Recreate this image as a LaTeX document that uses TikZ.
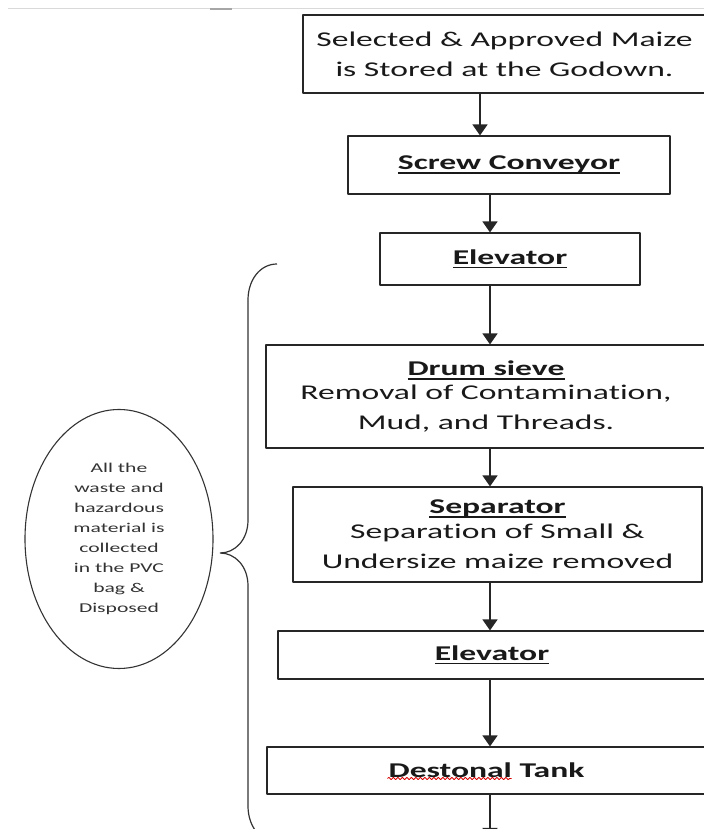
\documentclass[tikz,border=0pt]{standalone}
\usepackage{fontspec}
\setmainfont{Carlito}[FakeStretch=1.6,Ligatures={NoCommon}]
\usetikzlibrary{arrows.meta,shapes,decorations.pathmorphing}

\newcommand\boxfont{\fontsize{21bp}{30bp}\selectfont}
\newcommand\notefont{\fontsize{13.5bp}{20bp}\selectfont}
\newcommand\ulhead[1]{\setbox0=\hbox{\textbf{#1}}\rlap{\rule[-4bp]{\wd0}{1.5bp}}\box0}

\begin{document}
\begin{tikzpicture}[>={Triangle[width=15bp,length=11bp]},line join=bevel,
  box/.style={draw=black!85,line width=1.1bp,rectangle,inner sep=0pt,align=center,font=\boxfont,text=black!90},
  flow/.style={->,draw=black!85,line width=1.3bp},
  note/.style={draw=black!80,line width=1.1bp,ellipse,inner sep=0pt,align=center,font=\notefont,text=black!80},
  spell/.style={draw=red!85!black,line width=0.8bp,decorate,decoration={snake,amplitude=1.2bp,segment length=4.5bp}}]
\useasboundingbox (0bp,0bp) rectangle (704bp,829bp);
\clip (0bp,0bp) rectangle (704bp,829bp);
%%
\draw [gray!30,line width=1bp] (8bp,820bp) -- (704bp,820bp);
\draw [gray!70,line width=1.5bp] (210bp,820bp) -- (232bp,820bp);
\begin{scope}
  \node (store) at (504.5bp,775bp) [box,minimum width=403bp,minimum height=78bp] {Selected \& Approved Maize\\is Stored at the Godown.};
  \node (screw) at (509bp,664bp) [box,minimum width=322bp,minimum height=58bp] {\ulhead{Screw Conveyor}};
  \node (lift1) at (510bp,570bp) [box,minimum width=260bp,minimum height=52bp] {\ulhead{Elevator}};
  \node (drum) at (486bp,432.5bp) [box,minimum width=440bp,minimum height=103bp] {\ulhead{Drum sieve}\\[-6bp]Removal of Contamination,\\Mud, and Threads.};
  \node (sep) at (497.5bp,294.5bp) [box,minimum width=409bp,minimum height=95bp] {\ulhead{Separator}\\[-5bp]Separation of Small \&\\Undersize maize removed};
  \node (lift2) at (492bp,174bp) [box,minimum width=428bp,minimum height=48bp] {\ulhead{Elevator}};
  \node (tank) at (486.5bp,58.5bp) [box,minimum width=439bp,minimum height=47bp] {\textbf{Destonal Tank}};
  \node (waste) at (119bp,290bp) [note,minimum width=188bp,minimum height=259bp] {All the\\waste and\\hazardous\\material is\\collected\\in the PVC\\bag \&\\Disposed};
\end{scope}
\coordinate (spineA) at (480bp,0bp);
\coordinate (spine) at (490bp,0bp);
\coordinate (next) at (490bp,-10bp);
\begin{scope}
  \draw [flow] (store.south -| spineA) -- (screw.north -| spineA);
  \draw [flow] (screw.south -| spine) -- (lift1.north -| spine);
  \draw [flow] (lift1.south -| spine) -- (drum.north -| spine);
  \draw [flow] (drum.south -| spine) -- (sep.north -| spine);
  \draw [flow] (sep.south -| spine) -- (lift2.north -| spine);
  \draw [flow] (lift2.south -| spine) -- (tank.north -| spine);
  \draw [flow] (tank.south -| spine) -- (next);
\end{scope}
% brace
\draw [black!80,line width=1.2bp] (277bp,565bp) .. controls (260bp,565bp) and (248bp,549bp) .. (248bp,529bp)
  -- (248bp,309bp) .. controls (248bp,289bp) and (235bp,276bp) .. (220bp,276bp)
  .. controls (235bp,276bp) and (248bp,263bp) .. (248bp,243bp)
  -- (248bp,23bp) .. controls (248bp,3bp) and (260bp,-13bp) .. (277bp,-13bp);
\draw [spell] ([shift={(-99bp,-8bp)}]tank.center) -- ([shift={(25bp,-8bp)}]tank.center);
%
\end{tikzpicture}
\end{document}
